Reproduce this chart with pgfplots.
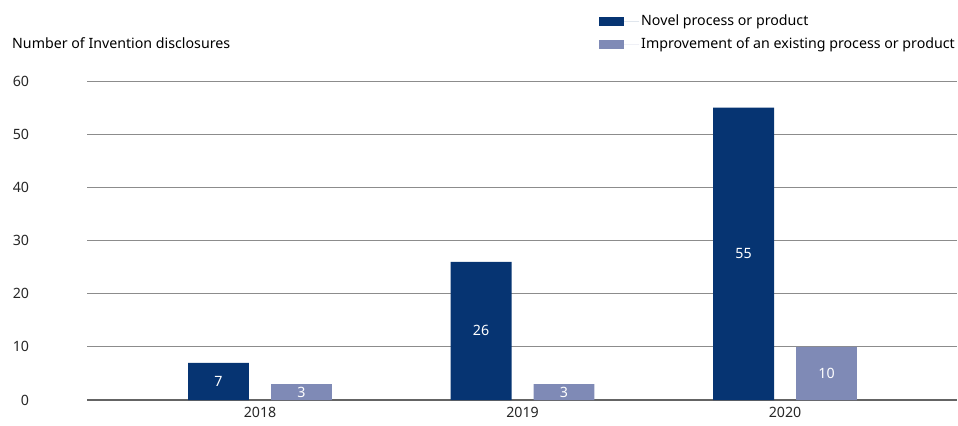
\documentclass[border=0pt]{standalone}
\usepackage{fontspec}
\setmainfont{Noto Sans}
\usepackage{pgfplots}
\pgfplotsset{compat=1.18}
\definecolor{navy}{RGB}{6,52,114}
\definecolor{lightblue}{RGB}{127,138,182}
\definecolor{gridgray}{RGB}{140,140,140}
\definecolor{basegray}{RGB}{100,100,100}
\begin{document}
\fontsize{14.2bp}{17bp}\selectfont
\begin{tikzpicture}
\useasboundingbox (0,0) rectangle (958bp,426bp);
\begin{axis}[
  at={(87bp,26bp)}, anchor=south west,
  scale only axis, width=870bp, height=319bp,
  ybar, bar width=0.232,
  xmin=-0.659, xmax=2.655, ymin=0, ymax=60,
  xtick={0,1,2}, xticklabels={2018,2019,2020},
  ytick={0,10,20,30,40,50,60},
  major tick length=0pt,
  axis x line*=bottom, axis y line*=left,
  x axis line style={draw=basegray, line width=2.2bp, -},
  y axis line style={draw=none},
  ymajorgrids, grid style={gridgray, line width=0.9bp},
  yticklabel style={anchor=east, xshift=-53bp},
  xticklabel style={yshift=-2bp},
  tick label style={font=\fontsize{14.2bp}{17bp}\selectfont, text=black!85},
  /pgf/number format/assume math mode=true,
  legend style={at={(axis description cs:0.5885,1.214)}, anchor=north west, draw=none, fill=none,
    font=\fontsize{14.2bp}{17bp}\selectfont, row sep=6bp, legend cell align=left, inner sep=0pt},
  legend image code/.code={\fill[#1] (0bp,-4.5bp) rectangle (25bp,4.5bp); \path (0bp,0) -- (40bp,0);},
  nodes near coords,
  visualization depends on={y/2 \as \halfy},
  every node near coord/.append style={anchor=center, text=white,
    shift={(axis direction cs:0,-\halfy)}, font=\fontsize{14.2bp}{17bp}\selectfont},
  clip=false,
]
\addplot[fill=navy, draw=none, bar shift=-0.158] coordinates {(0,7) (1,26) (2,55)};
\addplot[fill=lightblue, draw=none, bar shift=0.158] coordinates {(0,3) (1,3) (2,10)};
\legend{Novel process or product, Improvement of an existing process or product}
\node[anchor=west, inner sep=0] at (axis description cs:-0.0862,1.119) {Number of Invention disclosures};
\end{axis}
\end{tikzpicture}
\end{document}
